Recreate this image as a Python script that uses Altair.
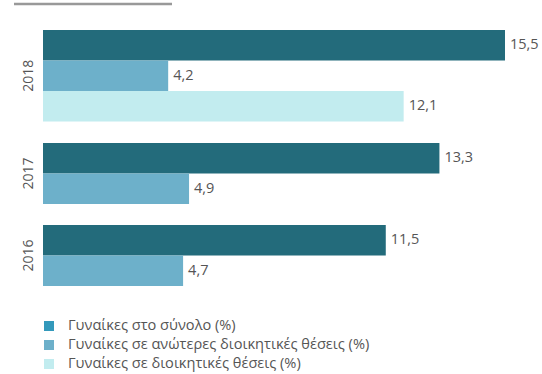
import altair as alt
import pandas as pd

years = ["2018", "2017", "2016"]
series = [
    "Γυναίκες στο σύνολο (%)",
    "Γυναίκες σε ανώτερες διοικητικές θέσεις (%)",
    "Γυναίκες σε διοικητικές θέσεις (%)",
]
total = [15.5, 13.3, 11.5]
senior = [4.2, 4.9, 4.7]
mgmt = [12.1, None, None]

bar_colors = ["#236B7B", "#6DB0CA", "#C2ECEF"]
legend_colors = ["#3399BB", "#6DB0CA", "#C2ECEF"]

rows = []
for i, y in enumerate(years):
    for s, vals in zip(series, [total, senior, mgmt]):
        v = vals[i]
        if v is None:
            continue
        rows.append({"year": y, "series": s, "value": v,
                     "label": f"{v:.1f}".replace(".", ",")})
df = pd.DataFrame(rows)

FONT = "Open Sans"
TXT = "#555555"

base = alt.Chart().encode(
    y=alt.Y("series:N", sort=series, axis=None,
            scale=alt.Scale(type="band", paddingInner=0, paddingOuter=0)),
    x=alt.X("value:Q", axis=None,
            scale=alt.Scale(domain=[0, 15.5], nice=False)),
)
bars = base.mark_bar().encode(
    color=alt.Color("series:N", sort=series, legend=None,
                    scale=alt.Scale(domain=series, range=bar_colors))
)
labels = base.mark_text(align="left", baseline="middle", dx=5,
                        fontSize=14.5, color=TXT, font=FONT).encode(text="label:N")

facet = alt.layer(bars, labels, data=df).properties(
    width=462, height=alt.Step(30.5)
).facet(
    row=alt.Row("year:N", sort=years,
                header=alt.Header(title=None, labelAngle=-90, labelOrient="left",
                                  labelFontSize=14, labelColor=TXT, labelFont=FONT,
                                  labelPadding=0)),
    spacing=21,
).resolve_scale(y="independent")

top_rule = alt.Chart(pd.DataFrame({"a": [0]})).mark_rule(
    color="#999999", strokeWidth=2.5
).encode(
    x=alt.value(-29), x2=alt.value(129), y=alt.value(0)
).properties(width=462, height=1)

leg_df = pd.DataFrame({"series": series})
leg_base = alt.Chart(leg_df).encode(
    y=alt.Y("series:N", sort=series, axis=None,
            scale=alt.Scale(type="point", padding=0.671, align=0.627))
)
leg_sq = leg_base.mark_square(size=100, opacity=1).encode(
    x=alt.value(6),
    color=alt.Color("series:N", sort=series, legend=None,
                    scale=alt.Scale(domain=series, range=legend_colors)),
)
leg_txt = leg_base.mark_text(align="left", baseline="middle", fontSize=14.6,
                             color=TXT, font=FONT).encode(
    x=alt.value(25), text="series:N")
legend = alt.layer(leg_sq, leg_txt).properties(width=462, height=63.5)

chart = alt.vconcat(top_rule, facet, legend, spacing=24).properties(
    padding={"left": 12, "top": 2, "right": 0, "bottom": 0}
).resolve_scale(color="independent").configure_view(stroke=None).configure_concat(spacing=24)

chart.save("out.html", embed_options={"renderer": "svg", "actions": False})
